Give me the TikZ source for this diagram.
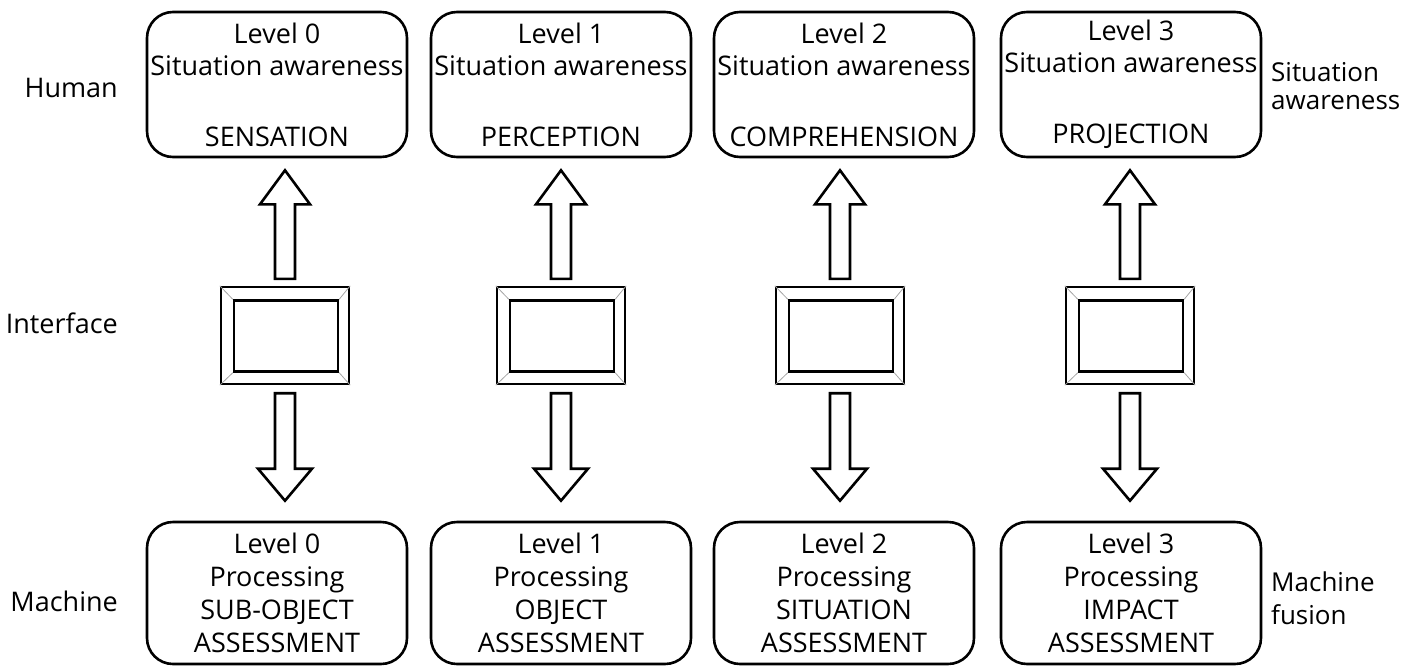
\documentclass[tikz,border=0pt]{standalone}
\usepackage{fontspec}
\setmainfont{Open Sans}
\usetikzlibrary{calc}
\begin{document}
\begin{tikzpicture}[x=1pt,y=-1pt,
  lbl/.style={font=\fontsize{27}{32}\selectfont, inner sep=0},
  sabox/.style={draw, line width=2.6pt, rounded corners=26pt, minimum width=260pt,
    minimum height=145pt, align=center, inner sep=0, font=\fontsize{27}{32}\selectfont},
  fubox/.style={sabox, minimum height=142pt, font=\fontsize{27}{33}\selectfont},
  screen/.style={draw, line width=2.4pt, minimum width=128pt, minimum height=97pt, inner sep=0},
  glass/.style={draw, line width=2.4pt, minimum width=104pt, minimum height=71pt, inner sep=0},
  bevel/.style={draw=black!35, line width=0.8pt},
  blk/.style={draw, line width=2.6pt, line join=miter, fill=white}]
\useasboundingbox (0,0) rectangle (1406,667);

% row labels
\node[lbl, anchor=base east] (human) at (118,97) {Human};
\node[lbl, anchor=base east] (iface) at (118,333) {Interface};
\node[lbl, anchor=base east] (mach) at (118,611) {Machine};
\node[lbl, anchor=west, align=left, font=\fontsize{26}{28}\selectfont] (sa) at (1271,86) {Situation\\awareness};
\node[lbl, anchor=west, align=left, font=\fontsize{26}{33}\selectfont] (mf) at (1271,598) {Machine\\fusion};

% one column per fusion level
\foreach \i/\bx/\mx/\top/\bot in {0/277/285/SENSATION/SUB-OBJECT,
                                  1/561/561/PERCEPTION/OBJECT,
                                  2/844/840/COMPREHENSION/SITUATION,
                                  3/1131/1130/PROJECTION/IMPACT}{
  \node[sabox] (h\i) at (\bx,84.5) {Level \i\\Situation awareness\\[39pt]\top};
  \node[fubox] (f\i) at (\bx,593) {Level \i\\Processing\\\bot\\ASSESSMENT};

  % interface display
  \node[screen] (s\i) at (\mx,335.5) {};
  \node[glass] (g\i) at ($(s\i.center)+(1,0.5)$) {};
  \draw[bevel] (s\i.north west) -- (g\i.north west);
  \draw[bevel] (s\i.north east) -- (g\i.north east);
  \draw[bevel] (s\i.south west) -- (g\i.south west);
  \draw[bevel] (s\i.south east) -- (g\i.south east);

  % block arrow up to the human level
  \coordinate (ua\i) at ($(s\i.north)+(0,-7)$);
  \coordinate (ub\i) at ($(s\i.north |- h\i.south)+(0,12)$);
  \draw[blk] ($(ua\i)+(-10,0)$) -- ($(ub\i)+(-10,34)$) -- ($(ub\i)+(-25,34)$) -- (ub\i)
    -- ($(ub\i)+(25,34)$) -- ($(ub\i)+(10,34)$) -- ($(ua\i)+(10,0)$) -- cycle;

  % block arrow down to the machine level
  \coordinate (da\i) at ($(s\i.south)+(0,8)$);
  \coordinate (db\i) at ($(s\i.south |- f\i.north)+(0,-20)$);
  \draw[blk] ($(da\i)+(-10,0)$) -- ($(db\i)+(-10,-32)$) -- ($(db\i)+(-27,-32)$) -- (db\i)
    -- ($(db\i)+(27,-32)$) -- ($(db\i)+(10,-32)$) -- ($(da\i)+(10,0)$) -- cycle;
}
\end{tikzpicture}
\end{document}
